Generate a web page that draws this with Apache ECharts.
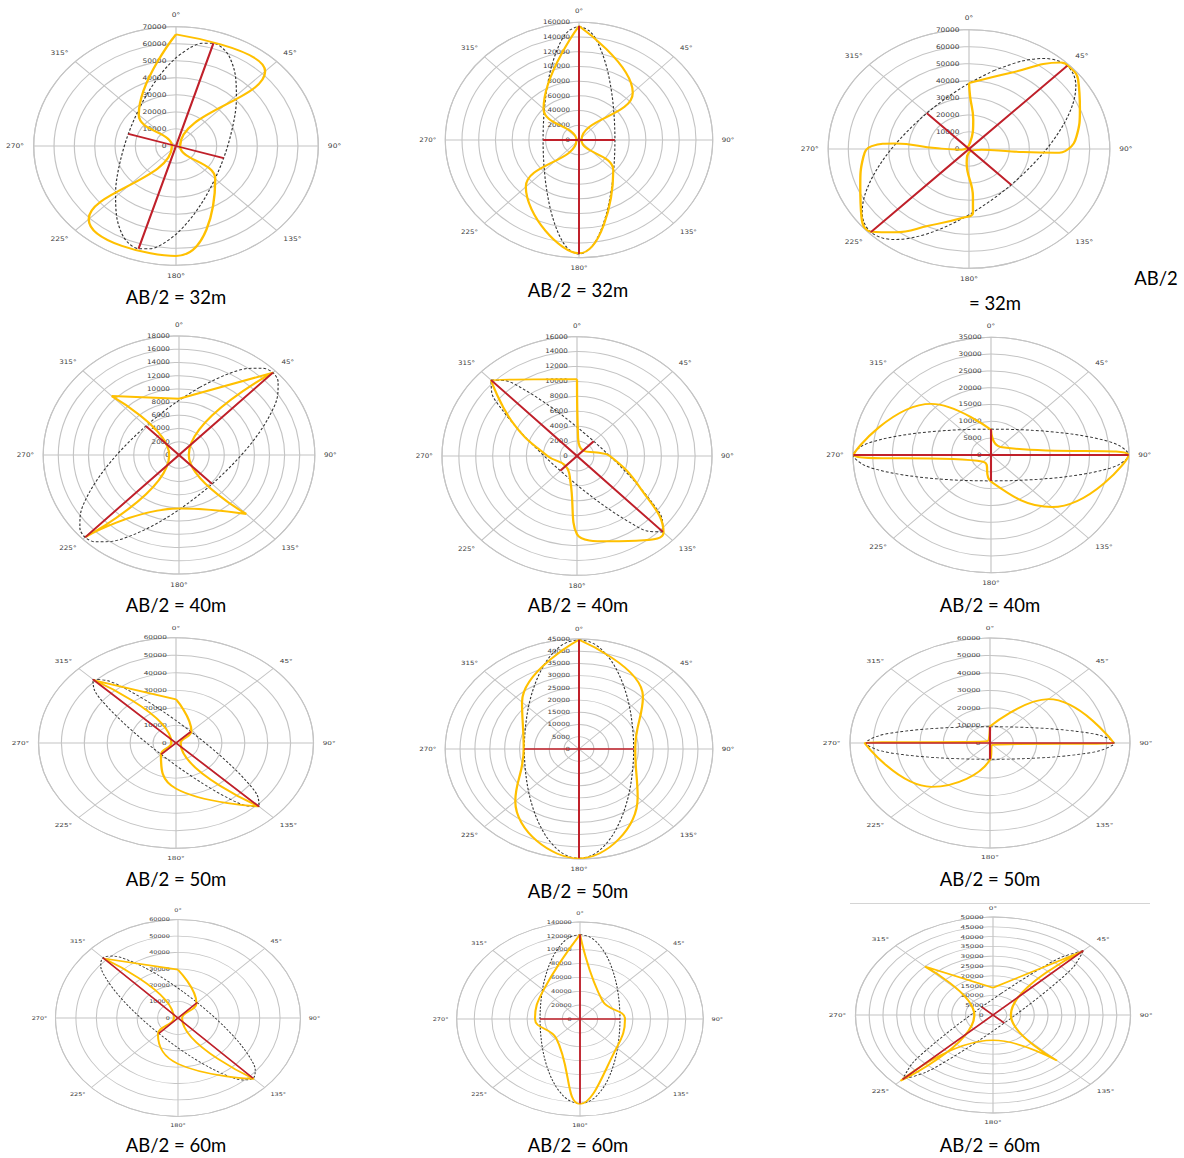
<!DOCTYPE html>
<html>
<head>
<meta charset="utf-8">
<script src="https://cdn.jsdelivr.net/npm/echarts@6/dist/echarts.min.js"></script>
<style>
  html, body { margin: 0; padding: 0; background: #ffffff; }
  body { width: 1184px; height: 1158px; position: relative; overflow: hidden; }
  .panel { position: absolute; width: 298px; height: 298px; transform-origin: 50% 50%; }
  .cap { position: absolute; font-family: Lato, "Open Sans", sans-serif; font-size: 18.5px; color: #000;
         white-space: nowrap; transform: translate(-50%, -50%); line-height: 1; }
  .rule { position: absolute; left: 850px; top: 903px; width: 300px; height: 1px; background: #d4d4d4; }
</style>
</head>
<body>
<div class="rule"></div>
<script>
// Apparent resistivity curves as [azimuth (deg, clockwise from north), resistivity] points
const rho_a = [[0,65500],[45,62000],[90,2000],[135,27300],[180,64500],[225,60700],[270,2000],[315,25900],[360,65500]];
const rho_b = [[0,155000],[45,91000],[90,3000],[135,58000],[180,154000],[225,90000],[270,3000],[315,60000],[360,155000]];
const rho_c = [[0,38700],[25,49400],[42,68300],[45,69400],[53,67900],[67,59900],[82,54000],[90,49400],[93,42800],[94,21300],[94,6300],[150,1500],[188,8300],[176,27900],[177,37600],[185,40600],[204,49300],[217,61200],[225,68600],[233,66900],[248,58300],[265,52700],[272,48400],[275,36900],[272,16900],[263,3700],[8,3500],[7,17300],[1,30900],[360,38700]];
const rho_d = [[0,8500],[45,17600],[90,1300],[135,12600],[180,8100],[225,17500],[270,1300],[315,12600],[360,8500]];
const rho_e = [[0,10300],[3,2400],[49,1050],[79,2400],[90,3900],[120,8700],[135,14500],[145,13800],[161,12100],[180,10500],[193,3500],[225,1900],[270,3500],[300,8700],[315,14400],[360,10300]];
const rho_f = [[0,7500],[45,3400],[90,34900],[135,21900],[180,7900],[225,2800],[270,34800],[315,21500],[360,7500]];
const rho_g = [[0,24900],[45,9500],[90,2000],[135,51000],[180,26000],[225,9300],[270,2000],[315,50500],[360,24900]];
const rho_h = [[0,44700],[45,30400],[90,18900],[135,27900],[180,44800],[225,30300],[270,18600],[315,27100],[360,44700]];
const rho_i = [[0,9500],[45,35400],[90,52900],[135,1500],[180,9500],[225,35400],[270,53600],[315,1500],[360,9500]];
const rho_j = [[0,29500],[45,12800],[90,2000],[135,52600],[180,28000],[225,13900],[270,2000],[315,51400],[360,29500]];
const rho_k = [[0,122000],[45,36400],[90,51100],[135,58800],[180,122700],[225,38500],[270,51100],[315,58800],[360,122000]];
const rho_l = [[0,13900],[45,45800],[90,6500],[135,32900],[180,12900],[225,47500],[270,6800],[315,35000],[360,13900]];

// Fitted anisotropy ellipses as [azimuth, resistivity] samples
const ell_a = [[7,58260],[12,61700],[17,63000],[22,61700],[27,58260],[35,50840],[47,40640],[67,30400],[107,24500],[147,30400],[167,40640],[179,50840],[187,58260],[192,61700],[197,63000],[202,61700],[207,58260],[215,50840],[227,40640],[247,30400],[287,24500],[327,30400],[347,40640],[359,50840]];
const ell_b = [[0,155000],[5,148380],[10,132830],[18,105820],[30,77510],[50,54670],[90,43000],[130,54670],[150,77510],[162,105820],[170,132830],[175,148380],[180,155000],[185,148380],[190,132830],[198,105820],[210,77510],[230,54670],[270,43000],[310,54670],[330,77510],[342,105820],[350,132830],[355,148380]];
const ell_c = [[15,47620],[27,57900],[35,64840],[40,67870],[45,69000],[50,67870],[55,64840],[63,57900],[75,47620],[95,36460],[135,29700],[175,36460],[195,47620],[207,57900],[215,64840],[220,67870],[225,69000],[230,67870],[235,64840],[243,57900],[255,47620],[275,36460],[315,29700],[355,36460]];
const ell_d = [[15,10590],[27,13600],[35,15980],[40,17150],[45,17600],[50,17150],[55,15980],[63,13600],[75,10590],[95,7760],[135,6200],[175,7760],[195,10590],[207,13600],[215,15980],[220,17150],[225,17600],[230,17150],[235,15980],[243,13600],[255,10590],[275,7760],[315,6200],[355,7760]];
const ell_e = [[5,3607],[45,2800],[85,3607],[105,5307],[117,7775],[125,10830],[130,13180],[135,14400],[140,13180],[145,10830],[153,7775],[165,5307],[185,3607],[225,2800],[265,3607],[285,5307],[297,7775],[305,10830],[310,13180],[315,14400],[320,13180],[325,10830],[333,7775],[345,5307]];
const ell_f = [[0,7700],[40,9884],[60,14385],[72,20615],[80,27685],[85,32565],[90,34900],[95,32565],[100,27685],[108,20615],[120,14385],[140,9884],[180,7700],[220,9884],[240,14385],[252,20615],[260,27685],[265,32565],[270,34900],[275,32565],[280,27685],[288,20615],[300,14385],[320,9884]];
const ell_g = [[5,11876],[45,9200],[85,11876],[105,17570],[117,26065],[125,37145],[130,46280],[135,51300],[140,46280],[145,37145],[153,26065],[165,17570],[185,11876],[225,9200],[265,11876],[285,17570],[297,26065],[305,37145],[310,46280],[315,51300],[320,46280],[325,37145],[333,26065],[345,17570]];
const ell_h = [[0,44700],[5,43890],[10,41723],[18,36892],[30,29964],[50,22703],[90,18400],[130,22703],[150,29964],[162,36892],[170,41723],[175,43890],[180,44700],[185,43890],[190,41723],[198,36892],[210,29964],[230,22703],[270,18400],[310,22703],[330,29964],[342,36892],[350,41723],[355,43890]];
const ell_i = [[0,9300],[40,12012],[60,17802],[72,26503],[80,38035],[85,47754],[90,53200],[95,47754],[100,38035],[108,26503],[120,17802],[140,12012],[180,9300],[220,12012],[240,17802],[252,26503],[260,38035],[265,47754],[270,53200],[275,47754],[280,38035],[288,26503],[300,17802],[320,12012]];
const ell_j = [[5,16976],[45,13300],[85,16976],[105,24320],[117,33819],[125,43474],[130,49387],[135,52000],[140,49387],[145,43474],[153,33819],[165,24320],[185,16976],[225,13300],[265,16976],[285,24320],[297,33819],[305,43474],[310,49387],[315,52000],[320,49387],[325,43474],[333,33819],[345,24320]];
const ell_k = [[0,122000],[5,119214],[10,111952],[18,96628],[30,76320],[50,56571],[90,45400],[130,56571],[150,76320],[162,96628],[170,111952],[175,119214],[180,122000],[185,119214],[190,111952],[198,96628],[210,76320],[230,56571],[270,45400],[310,56571],[330,76320],[342,96628],[350,111952],[355,119214]];
const ell_l = [[15,11339],[27,17523],[35,27270],[40,38211],[45,46500],[50,38211],[55,27270],[63,17523],[75,11339],[95,7530],[135,5800],[175,7530],[195,11339],[207,17523],[215,27270],[220,38211],[225,46500],[230,38211],[235,27270],[243,17523],[255,11339],[275,7530],[315,5800],[355,7530]];

// Principal axes of each ellipse: [azimuth, semi-axis length]
const major_axes = [[17,63000],[0,155000],[45,69000],[45,17600],[135,14400],[90,34900],[135,51300],[0,44700],[90,53200],[135,52000],[0,122000],[45,46500]];
const minor_axes = [[107,24500],[90,43000],[135,29700],[135,6200],[45,2800],[0,7700],[45,9200],[90,18400],[0,9300],[45,13300],[90,45400],[135,5800]];

// Radial scale (maximum and ring spacing) of each plot
const radial_max  = [70000, 160000, 70000, 18000, 16000, 35000, 60000, 45000, 60000, 60000, 140000, 50000];
const radial_step = [10000, 20000, 10000, 2000, 2000, 5000, 10000, 5000, 10000, 10000, 20000, 5000];

// Captions
const captions = ['AB/2 = 32m', 'AB/2 = 32m', 'AB/2 = 32m',
                  'AB/2 = 40m', 'AB/2 = 40m', 'AB/2 = 40m',
                  'AB/2 = 50m', 'AB/2 = 50m', 'AB/2 = 50m',
                  'AB/2 = 60m', 'AB/2 = 60m', 'AB/2 = 60m'];

const rhoSets = [rho_a, rho_b, rho_c, rho_d, rho_e, rho_f, rho_g, rho_h, rho_i, rho_j, rho_k, rho_l];
const ellSets = [ell_a, ell_b, ell_c, ell_d, ell_e, ell_f, ell_g, ell_h, ell_i, ell_j, ell_k, ell_l];

// Page layout: plot centres and horizontal / vertical radii (px)
const cx = [175.7, 579.3, 969, 179.3, 576.7, 990.7, 175.7, 578.7, 990, 177.7, 580, 992.7];
const cy = [146.3, 139.7, 149.3, 455.3, 455.7, 454.7, 742.7, 749.3, 743.3, 1018.3, 1019, 1015.3];
const rx = [142.3, 133.7, 140.8, 135.8, 135, 138, 137.5, 133.8, 140, 122.5, 123.3, 137.5];
const ry = [119.3, 117.7, 119.3, 119, 119.3, 117.7, 105.3, 110, 105, 98.3, 97, 98];
const capPos = [[176,297],[578,290],null,[176,605],[578,605],[990,605],[176,879],[578,891],[990,879],[176,1145],[578,1145],[990,1145]];

const BOX = 298, R0 = 119;
const GRID = '#c4c4c4', TEXT = '#404040';

function axisSegment(ax) {
  const a = ax[0], len = ax[1];
  return [[len, a], [0, a], [len, (a + 180) % 360]];
}

function buildOption(i) {
  const yellow = rhoSets[i].map(p => [p[1], p[0]]);
  const ellPts = ellSets[i].concat([ellSets[i][0]]).map(p => [p[1], p[0]]);
  return {
    animation: false,
    polar: { center: ['50%', '50%'], radius: R0 },
    angleAxis: {
      type: 'value', min: 0, max: 360, interval: 45, startAngle: 90, clockwise: true,
      axisLine: { show: true, lineStyle: { color: GRID, width: 1 } },
      axisTick: { show: false },
      axisLabel: { show: true, margin: 8, fontSize: 6.3, fontFamily: 'DejaVu Sans', color: TEXT,
                   formatter: v => (v === 360 ? '' : v + '°') },
      splitLine: { show: true, lineStyle: { color: GRID, width: 1 } }
    },
    radiusAxis: {
      type: 'value', min: 0, max: radial_max[i], interval: radial_step[i],
      axisLine: { show: false }, axisTick: { show: false },
      axisLabel: { show: true, margin: 8, fontSize: 6.3, fontFamily: 'DejaVu Sans', color: TEXT,
                   formatter: v => String(v) },
      splitLine: { show: true, lineStyle: { color: GRID, width: 1 } }
    },
    series: [
      { type: 'line', coordinateSystem: 'polar', data: ellPts, smooth: 0.33,
        symbol: 'none', z: 2, lineStyle: { color: '#333333', width: 1, type: [2.5, 1.8] } },
      { type: 'line', coordinateSystem: 'polar', data: yellow, smooth: 0.45,
        symbol: 'none', z: 3, lineStyle: { color: '#ffc000', width: 2 } },
      { type: 'line', coordinateSystem: 'polar', data: axisSegment(major_axes[i]), symbol: 'none', z: 4,
        lineStyle: { color: '#c0202a', width: 1.8 } },
      { type: 'line', coordinateSystem: 'polar', data: axisSegment(minor_axes[i]), symbol: 'none', z: 4,
        lineStyle: { color: '#c0202a', width: 1.8 } }
    ]
  };
}

for (let i = 0; i < 12; i++) {
  const el = document.createElement('div');
  el.className = 'panel';
  el.style.left = (cx[i] - BOX / 2) + 'px';
  el.style.top = (cy[i] - BOX / 2) + 'px';
  el.style.transform = 'scale(' + (rx[i] / R0) + ',' + (ry[i] / R0) + ')';
  document.body.appendChild(el);
  const chart = echarts.init(el, null, { renderer: 'svg' });
  chart.setOption(buildOption(i));

  if (capPos[i]) {
    const c = document.createElement('div');
    c.className = 'cap';
    c.textContent = captions[i];
    c.style.left = capPos[i][0] + 'px';
    c.style.top = capPos[i][1] + 'px';
    document.body.appendChild(c);
  } else {
    // this caption wraps onto two lines
    const parts = captions[i].split(' = ');
    const c1 = document.createElement('div');
    c1.className = 'cap';
    c1.textContent = parts[0];
    c1.style.left = '1156px'; c1.style.top = '278px';
    document.body.appendChild(c1);
    const c2 = document.createElement('div');
    c2.className = 'cap';
    c2.textContent = '= ' + parts[1];
    c2.style.left = '995px'; c2.style.top = '303px';
    document.body.appendChild(c2);
  }
}
</script>
</body>
</html>
